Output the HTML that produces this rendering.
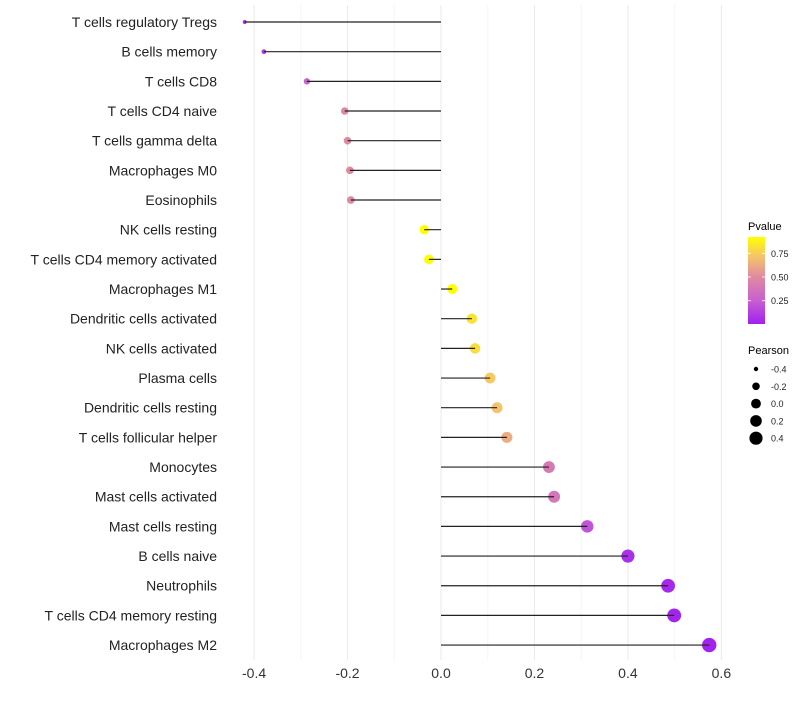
<!DOCTYPE html>
<html><head><meta charset="utf-8"><style>
body{margin:0;background:#fff;font-family:"Liberation Sans",Arial,sans-serif}
</style></head><body>
<svg id="chart" width="800" height="700" xmlns="http://www.w3.org/2000/svg">
<defs><linearGradient id="pg" x1="0" y1="1" x2="0" y2="0">
<stop offset="0" stop-color="#A020F0"/><stop offset="0.27" stop-color="#C860D0"/><stop offset="0.54" stop-color="#E08AA0"/><stop offset="0.76" stop-color="#F4C070"/><stop offset="1" stop-color="#FFFF00"/></linearGradient></defs>
<g id="grid"></g>
<g id="marks"></g>
<g id="labels"></g>
<g id="xt"></g>
<g>
<text x="748" y="230" font-size="11" fill="#000">Pvalue</text>
<rect x="748" y="237" width="17" height="87" fill="url(#pg)"/>
<g id="cbt"></g>
</g>
<g id="sizeleg">
<text x="748" y="354" font-size="11" fill="#000">Pearson</text>
</g>
</svg>
<script>
const categories=["T cells regulatory  Tregs","B cells memory","T cells CD8","T cells CD4 naive","T cells gamma delta","Macrophages M0","Eosinophils","NK cells resting","T cells CD4 memory activated","Macrophages M1","Dendritic cells activated","NK cells activated","Plasma cells","Dendritic cells resting","T cells follicular helper","Monocytes","Mast cells activated","Mast cells resting","B cells naive","Neutrophils","T cells CD4 memory resting","Macrophages M2"];
const pearson=[-0.42,-0.379,-0.287,-0.206,-0.200,-0.195,-0.193,-0.036,-0.026,0.024,0.066,0.073,0.105,0.12,0.141,0.231,0.242,0.313,0.40,0.486,0.499,0.574];
const pvalue=[0.05,0.1,0.27,0.49,0.5,0.5,0.5,0.92,0.92,0.92,0.82,0.8,0.73,0.71,0.63,0.4,0.38,0.2,0.06,0.03,0.02,0.01];
const xTicks=[-0.4,-0.2,0.0,0.2,0.4,0.6];
const xMinor=[-0.3,-0.1,0.1,0.3,0.5];
const cbTicks=[0.25,0.5,0.75];
const sizeBreaks=[-0.4,-0.2,0.0,0.2,0.4];
const NS="http://www.w3.org/2000/svg";
const x=v=>441+v*467.3;
const y=i=>22+i*29.67;
const r=v=>Math.sqrt(Math.max(24+48*v,2));
const cy=p=>324.4-p*94.8;
function mix(a,b,t){return a.map((c,i)=>Math.round(c+(b[i]-c)*t));}
const stops=[[0,[160,32,240]],[0.25,[200,96,208]],[0.5,[224,138,160]],[0.7,[244,192,112]],[0.92,[255,255,0]]];
function col(p){p=Math.max(0,Math.min(0.92,p));for(let i=1;i<stops.length;i++){if(p<=stops[i][0]){const t=(p-stops[i-1][0])/(stops[i][0]-stops[i-1][0]);const c=mix(stops[i-1][1],stops[i][1],t);return `rgb(${c})`;}}return "rgb(255,255,0)";}
function el(t,a,parent){const e=document.createElementNS(NS,t);for(const k in a)e.setAttribute(k,a[k]);parent.appendChild(e);return e;}
const grid=document.getElementById('grid'),marks=document.getElementById('marks'),labels=document.getElementById('labels'),xt=document.getElementById('xt');
xMinor.forEach(v=>{const l=el('line',{x1:x(v),x2:x(v),y1:5,y2:660,stroke:'#f5f5f5','stroke-width':1},grid);

});
xTicks.forEach(v=>{const l=el('line',{x1:x(v),x2:x(v),y1:5,y2:660,stroke:'#ebebeb','stroke-width':1.1},grid);


const t=el('text',{x:x(v),y:678,'font-size':14,'text-anchor':'middle',fill:'#333'},xt);t.textContent=v.toFixed(1);

});
categories.forEach((c,i)=>{
const t=el('text',{x:217,y:y(i)+5,'font-size':14,'text-anchor':'end',fill:'#222'},labels);t.textContent=c;


const d=el('circle',{cx:x(pearson[i]),cy:y(i),r:r(pearson[i]),fill:col(pvalue[i])},marks);


const l=el('line',{x1:x(0),x2:x(pearson[i]),y1:y(i),y2:y(i),stroke:'#222','stroke-width':1.2},marks);

});
const cbt=document.getElementById('cbt');
cbTicks.forEach(p=>{const yy=cy(p);
el('line',{x1:748,x2:751,y1:yy,y2:yy,stroke:'#fff','stroke-width':0.8},cbt);
el('line',{x1:762,x2:765,y1:yy,y2:yy,stroke:'#fff','stroke-width':0.8},cbt);
const t=el('text',{x:771,y:yy+3.5,'font-size':9,fill:'#222'},cbt);t.textContent=p.toFixed(2);

});
const sl=document.getElementById('sizeleg');
sizeBreaks.forEach((v,i)=>{const yy=369+i*17.3;
const c=el('circle',{cx:756,cy:yy,r:r(v),fill:'#000'},sl);


const t=el('text',{x:771,y:yy+3.5,'font-size':9,fill:'#222'},sl);t.textContent=v.toFixed(1);

});
</script>
</body></html>
